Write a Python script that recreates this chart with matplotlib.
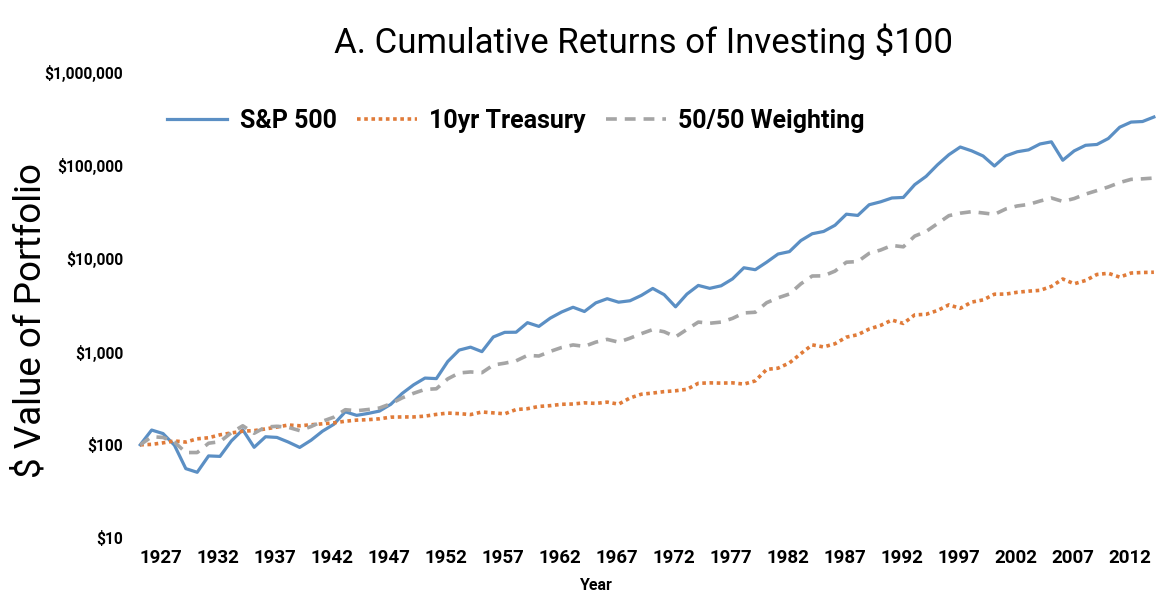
import matplotlib
matplotlib.use("Agg")
import matplotlib.pyplot as plt
import matplotlib.transforms as mtransforms
from matplotlib.ticker import FixedLocator, NullLocator


years = list(range(1927, 2017))

sp500 = [100, 144, 132, 99, 55.5, 50.7, 76.0, 75.1, 110, 145,
         94.0, 122, 120, 107, 93.7, 112, 140, 166, 226, 207,
         217, 230, 272, 356, 440, 520, 513, 783, 1038, 1116,
         999, 1436, 1609, 1614, 2044, 1864, 2286, 2661, 2991, 2693,
         3334, 3694, 3390, 3511, 4010, 4762, 4081, 3024, 4142, 5129,
         4771, 5082, 6023, 7935, 7562, 9106, 11141, 11826, 15520, 18390,
         19458, 22677, 29815, 28903, 37640, 40460, 44494, 45085, 61857, 75886,
         101005, 129629, 156709, 142559, 125665, 98057, 125866, 139384, 146116, 168925,
         178182, 113055, 142382, 163483, 166916, 193439, 255629, 290190, 294195, 328822]

treasury = [100, 101, 105, 110, 107, 116, 119, 128, 134, 140,
            142, 148, 155, 163, 160, 164, 168, 172, 179, 184,
            186, 190, 198, 199, 199, 203, 212, 219, 216, 211,
            225, 220, 215, 239, 244, 258, 263, 272, 274, 282,
            278, 287, 273, 318, 349, 359, 372, 380, 394, 457,
            462, 459, 462, 448, 485, 644, 664, 756, 950, 1181,
            1122, 1214, 1429, 1518, 1746, 1909, 2181, 2005, 2476, 2512,
            2761, 3173, 2912, 3397, 3586, 4128, 4144, 4330, 4454, 4541,
            5005, 6011, 5342, 5794, 6724, 6924, 6294, 6970, 7059, 7108]

balanced = [100, 122, 120, 107, 82.6, 82.6, 104, 108, 135, 160,
            133, 155, 158, 154, 142, 157, 179, 198, 238, 232,
            239, 248, 276, 319, 357, 393, 399, 510, 590, 605,
            594, 718, 751, 796, 911, 897, 1005, 1107, 1179, 1138,
            1264, 1353, 1263, 1392, 1559, 1725, 1633, 1438, 1730, 2074,
            2015, 2073, 2272, 2599, 2644, 3348, 3775, 4151, 5333, 6473,
            6500, 7305, 9101, 9246, 11336, 12291, 13777, 13314, 17354, 19446,
            23631, 28742, 30559, 31725, 30729, 29677, 33941, 36526, 37932, 41264,
            44501, 40841, 43867, 48973, 53415, 58452, 65189, 70500, 71400, 72800]

year_ticks = list(range(1927, 2013, 5))
y_ticks = [10, 100, 1000, 10000, 100000, 1000000]
y_labels = ["$10", "$100", "$1,000", "$10,000", "$100,000", "$1,000,000"]

plt.rcParams["font.family"] = ["Roboto", "DejaVu Sans"]

fig = plt.figure(figsize=(11.67, 6), dpi=100)
ax = fig.add_axes([130 / 1167, 62 / 600, 1033 / 1167, 466 / 600])

ax.plot(years, sp500, color="#5b8fc4", lw=2.3, label="S&P 500")
ax.plot(years, treasury, color="#e07b39", lw=2.6, ls=(0, (1, 1)),
        label="10yr Treasury")
ax.plot(years, balanced, color="#a5a5a5", lw=2.6, ls=(0, (3, 2.2)),
        label="50/50 Weighting")

ax.set_yscale("log")
ax.set_ylim(10, 1000000)
ax.set_xlim(1926.1, 2016.8)

ax.yaxis.set_major_locator(FixedLocator(y_ticks))
ax.yaxis.set_minor_locator(NullLocator())
ax.set_yticklabels(y_labels, fontsize=11.2, fontweight="bold")
ax.set_xticks(year_ticks)
ax.set_xticklabels([str(y) for y in year_ticks], fontsize=13.5,
                   fontweight="bold")
ax.tick_params(axis="both", length=0)
ax.tick_params(axis="x", pad=8)
ax.tick_params(axis="y", pad=5)

# the year labels sit a little right of their points in the original
shift = mtransforms.ScaledTranslation(0.21, 0, fig.dpi_scale_trans)
for lbl in ax.get_xticklabels():
    lbl.set_transform(lbl.get_transform() + shift)

for s in ax.spines.values():
    s.set_visible(False)

ax.legend(loc="center left", bbox_to_anchor=(0.024, 0.895), ncol=3,
          frameon=False, borderpad=0, handlelength=2.4, handletextpad=0.5,
          columnspacing=0.8, prop={"size": 18, "weight": "bold"})

fig.text(644 / 1167, 1 - 42 / 600, "A. Cumulative Returns of Investing $100",
         ha="center", va="center", fontsize=25)
fig.text(31 / 1167, 1 - 320 / 600, "$ Value of Portfolio", rotation=90,
         ha="center", va="center", fontsize=26.5)
fig.text(596 / 1167, 1 - 585 / 600, "Year", ha="center", va="center",
         fontsize=11.5, fontweight="bold")

fig.savefig("out.png", dpi=100)
